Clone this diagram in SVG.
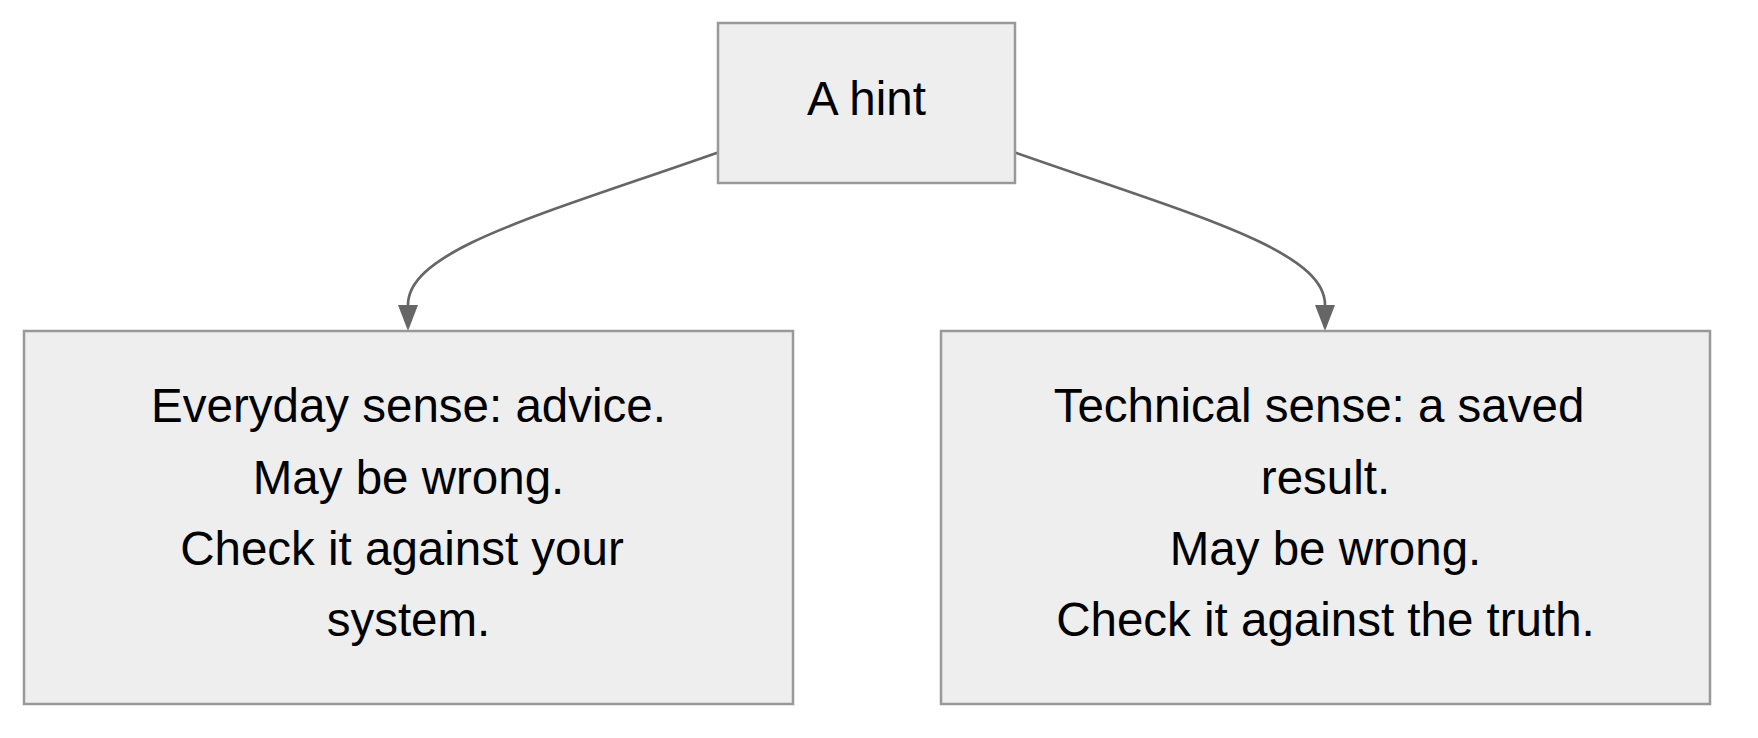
<svg xmlns="http://www.w3.org/2000/svg" width="1758" height="738" viewBox="0 0 1758 738">
<style>
.box{fill:#eeeeee;stroke:#999999;stroke-width:2.5}
.edge{fill:none;stroke:#666666;stroke-width:2.7}
.lbl{font-family:"Liberation Sans",Arial,sans-serif;font-size:47.5px;fill:#000000;text-anchor:middle}
</style>
<rect width="1758" height="738" fill="#ffffff"/>
<g id="connectors">
<path class="edge" d="M718,152.5 C540,215 408,250 408,305 L408,306"/>
<path d="M398,305 L418,305 L408,331 Z" fill="#666666"/>
<path class="edge" d="M1015,152.5 C1193,215 1325,250 1325,305 L1325,306"/>
<path d="M1315,305 L1335,305 L1325,331 Z" fill="#666666"/>
</g>
<g id="node-hint">
<rect class="box" x="718" y="23" width="297" height="160"/>
<text class="lbl" x="866.5" y="115">A hint</text>
</g>
<g id="node-everyday">
<rect class="box" x="24" y="331" width="769" height="373"/>
<text class="lbl" x="408.5" y="422">Everyday sense: advice.</text>
<text class="lbl" x="408.5" y="494">May be wrong.</text>
<text class="lbl" x="402" y="565">Check it against your</text>
<text class="lbl" x="408.5" y="636">system.</text>
</g>
<g id="node-technical">
<rect class="box" x="941" y="331" width="769" height="373"/>
<text class="lbl" x="1319" y="422">Technical sense: a saved</text>
<text class="lbl" x="1325.5" y="494">result.</text>
<text class="lbl" x="1325.5" y="565">May be wrong.</text>
<text class="lbl" x="1325.5" y="636">Check it against the truth.</text>
</g>
</svg>
